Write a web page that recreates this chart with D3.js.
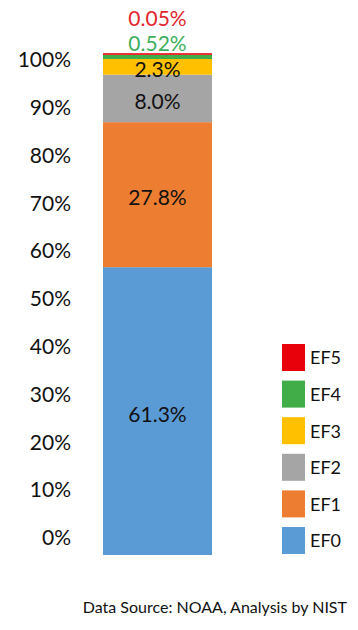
<!DOCTYPE html>
<html><head><meta charset="utf-8">
<script src="https://cdn.jsdelivr.net/npm/d3@7"></script>
<style>html,body{margin:0;padding:0;background:#fff;}svg{display:block;font-family:Lato,"Open Sans",sans-serif;}</style>
</head><body>
<svg id="c" width="358" height="630"></svg>
<script>
const categories = ["EF0","EF1","EF2","EF3","EF4","EF5"];
const values = [61.3, 27.8, 8.0, 2.3, 0.52, 0.05];
const valueLabels = ["61.3%","27.8%","8.0%","2.3%","0.52%","0.05%"];
const colors = ["#5B9BD5","#ED7D31","#A5A5A5","#FFC000","#41AD49","#E8000B"];
const tickValues = [0,10,20,30,40,50,60,70,80,90,100];
const source = "Data Source: NOAA, Analysis by NIST";

(function () {
const svg = d3.select("#c");
const x = d3.scaleBand().domain(["Tornadoes"]).range([103, 212]).padding(0);
// the reference bar stretches the thin upper classes: measure the share remaining above each boundary
const yRem = d3.scalePow().exponent(0.9).domain([0, 100]).range([54, 555]);
const y = v => yRem(100 - v);
const yAxisScale = d3.scaleLinear().domain([0, 100]).range([538, 60]);

let cum = 0;
const segs = values.map((v, i) => { const s = {key: categories[i], y0: cum, y1: cum + v, label: valueLabels[i], color: colors[i]}; cum += v; return s; });

const minH = 1.6;
svg.append("g").selectAll("rect").data(segs).join("rect")
  .attr("x", x("Tornadoes")).attr("width", x.bandwidth())
  .attr("y", d => Math.min(y(d.y1), y(d.y0) - minH))
  .attr("height", d => Math.max(y(d.y0) - y(d.y1), minH))
  .attr("fill", d => d.color);

const axis = d3.axisLeft(yAxisScale).tickValues(tickValues).tickFormat(d => d + "%").tickSize(0).tickPadding(0);
const ga = svg.append("g").attr("transform", "translate(71,0)").call(axis);
ga.select(".domain").remove();
ga.selectAll("text").attr("font-size", 21).attr("fill", "#111").attr("font-family", "Lato,'Open Sans',sans-serif");

svg.append("g").selectAll("text").data(segs.slice(0, 4)).join("text")
  .attr("x", x("Tornadoes") + x.bandwidth() / 2)
  .attr("y", d => (y(d.y0) + y(d.y1)) / 2)
  .attr("dy", "0.5em").attr("text-anchor", "middle")
  .attr("font-size", 21).attr("fill", "#111")
  .text(d => d.label);

const barTop = y(100);
const outside = segs.slice(4);
svg.append("g").selectAll("text").data(outside).join("text")
  .attr("x", x("Tornadoes") + x.bandwidth() / 2)
  .attr("y", (d, i) => barTop - 11 - i * 25)
  .attr("dy", "0.36em").attr("text-anchor", "middle")
  .attr("font-size", 21)
  .attr("fill", d => d.key === "EF5" ? "#E3262E" : "#3DAF5C")
  .text(d => d.label);

const legendOrder = categories.slice().reverse();
const ly = d3.scalePoint().domain(legendOrder).range([344, 527]);
const lg = svg.append("g").selectAll("g").data(legendOrder).join("g")
  .attr("transform", d => `translate(282,${ly(d)})`);
lg.append("rect").attr("width", 23).attr("height", 27)
  .attr("fill", d => colors[categories.indexOf(d)]);
lg.append("text").attr("x", 28).attr("y", 14).attr("dy", "0.36em")
  .attr("font-size", 18).attr("fill", "#111").text(d => d);

svg.append("text").attr("x", 347).attr("y", 607).attr("dy", "0.36em")
  .attr("text-anchor", "end").attr("font-size", 16).attr("fill", "#111").text(source);
})();
</script>
</body></html>
